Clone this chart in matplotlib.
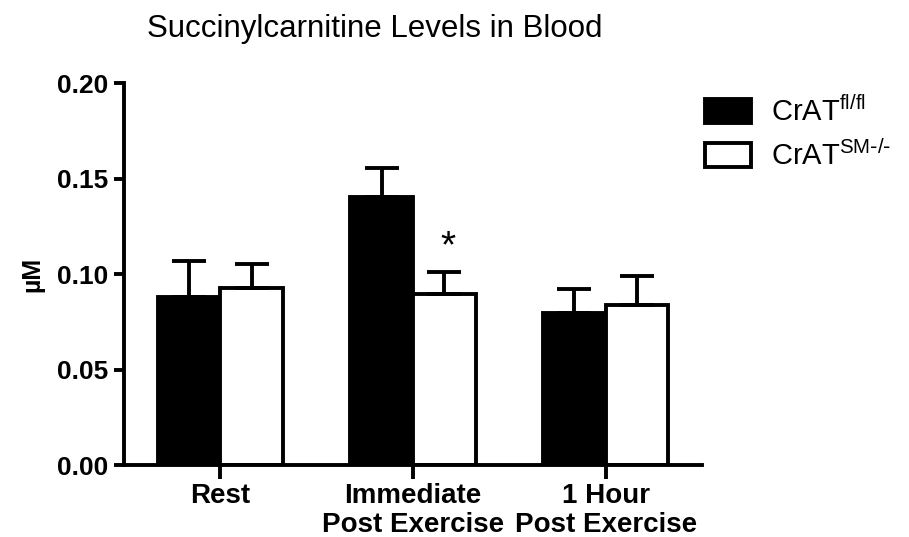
import matplotlib
matplotlib.use("Agg")
import matplotlib.pyplot as plt
import numpy as np

# ── data ────────────────────────────────────────────────────────────────
groups   = ["Rest", "Immediate\nPost Exercise", "1 Hour\nPost Exercise"]
fl_mean  = [0.088, 0.1405, 0.0797]
fl_sem   = [0.0188, 0.0148, 0.0124]
sm_mean  = [0.0925, 0.0894, 0.0838]
sm_sem   = [0.0125, 0.0116, 0.0153]
yticks   = [0.00, 0.05, 0.10, 0.15, 0.20]
sig_group = 1   # asterisk over the SM-/- bar

plt.rcParams.update({
    "font.family": ["Liberation Sans", "DejaVu Sans"],
    "mathtext.default": "regular",
})

LW = 2.8
fig = plt.figure(figsize=(9.09, 5.37), dpi=100)
ax = fig.add_axes([0.1364, 0.134, 0.6359, 0.7114])

x = np.arange(len(groups))
width = 0.325
err_kw = dict(ecolor="black", elinewidth=LW, capsize=12.5, capthick=LW)

ax.bar(x - width / 2, fl_mean, width, color="black", edgecolor="black",
       linewidth=LW, yerr=[np.zeros(3), fl_sem], error_kw=err_kw,
       label=r"CrAT$^{\mathregular{fl/fl}}$")
ax.bar(x + width / 2, sm_mean, width, color="white", edgecolor="black",
       linewidth=LW, yerr=[np.zeros(3), sm_sem], error_kw=err_kw,
       label=r"CrAT$^{\mathregular{SM\text{-}/\text{-}}}$")

ax.text(x[sig_group] + width / 2 + 0.02, sm_mean[sig_group] + sm_sem[sig_group] + 0.013,
        "*", ha="center", va="center", fontsize=28)

ax.set_xlim(-0.5, 2.5)
ax.set_ylim(0, 0.20)
ax.set_yticks(yticks)
ax.set_yticklabels([f"{v:.2f}" for v in yticks], fontsize=19, fontweight="bold")
ax.set_xticks(x)
ax.set_xticklabels(groups, fontsize=20, fontweight="bold", linespacing=1.15)
ax.tick_params(axis="y", direction="out", length=7, width=LW, pad=4)
ax.tick_params(axis="x", direction="out", length=10, width=LW, pad=3)

for side in ("top", "right"):
    ax.spines[side].set_visible(False)
for side in ("left", "bottom"):
    ax.spines[side].set_linewidth(LW)

ax.set_ylabel("µM", fontsize=18, fontweight="bold")
ax.yaxis.set_label_coords(-0.137, 0.5)

fig.text(0.4125, 0.931, "Succinylcarnitine Levels in Blood",
         ha="center", va="baseline", fontsize=22.5)

ax.legend(loc="upper left", bbox_to_anchor=(0.776, 0.82),
          bbox_transform=fig.transFigure, frameon=False, fontsize=21,
          handlelength=1.55, handleheight=0.9, handletextpad=0.7,
          labelspacing=0.45, borderpad=0, borderaxespad=0)

fig.savefig("out.png", dpi=100)
